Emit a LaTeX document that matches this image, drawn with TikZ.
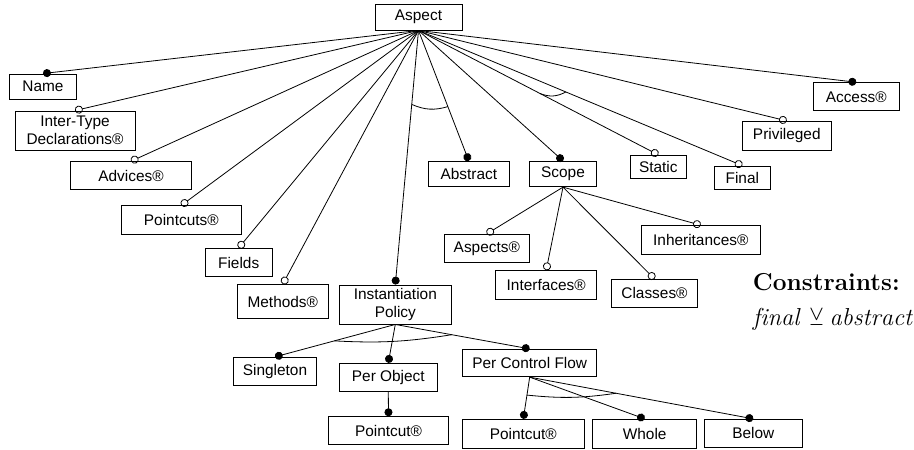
\documentclass[tikz,border=0pt]{standalone}
\usepackage{amssymb}
\usepackage{amsmath}
\usepackage{fontspec}
\newfontfamily\featfont{Liberation Sans}
\usetikzlibrary{arrows.meta,calc}
\tikzset{
  feature/.style={
    draw, rectangle, inner sep=0pt, line width=0.9pt, align=center,
    font=\featfont\fontsize{15.4}{18.5}\selectfont,
  },
  mand/.style={-{Circle[length=8pt]}},
  opt/.style={-{Circle[open,length=8pt]}},
  group arc/.style={line width=0.8pt}
}

\begin{document}
\begin{tikzpicture}[x=1pt,y=1pt]
                \useasboundingbox (0,0) rectangle (914,-450);
                \begin{scope}[every node/.style={feature}]
                    \node[minimum width=87,minimum height=26] (asp) at (418.5,-17) {Aspect};
                    % left hand features
                    \node[minimum width=67.7,minimum height=25] (nam) at (43,-86.5) {Name};
                    \node[minimum width=120,minimum height=39] (itd) at (75,-130.5) {Inter-Type\\Declarations®};
                    \node[minimum width=120.3,minimum height=27.6] (adv) at (131,-175.5) {Advices®};
                    \node[minimum width=120.7,minimum height=28.3] (pcs) at (181.3,-220) {Pointcuts®};
                    \node[minimum width=67.3,minimum height=28.4] (fld) at (238.7,-262.5) {Fields};
                    \node[minimum width=91,minimum height=34] (mth) at (282.8,-301.5) {Methods®};
                    % instantiation policy subtree
                    \node[minimum width=112,minimum height=39] (inst) at (395.3,-304.5) {Instantiation\\Policy};
                    \node[minimum width=83.7,minimum height=28.4] (sgl) at (275,-371.5) {Singleton};
                    \node[minimum width=98,minimum height=28.4] (pobj) at (388.3,-377.5) {Per Object};
                    \node[minimum width=120.4,minimum height=27.6] (pcut) at (388.5,-430.5) {Pointcut®};
                    \node[minimum width=134,minimum height=27.4] (pcf) at (529.7,-363) {Per Control Flow};
                    \node[minimum width=121.3,minimum height=29] (pfcut) at (523.3,-433.8) {Pointcut®};
                    \node[minimum width=104,minimum height=29] (whole) at (644.7,-433.8) {Whole};
                    \node[minimum width=98,minimum height=28] (below) at (753.3,-433.3) {Below};
                    % right hand features
                    \node[minimum width=81,minimum height=25.4] (abst) at (468.8,-174) {Abstract};
                    \node[minimum width=67.4,minimum height=25.4] (scope) at (563,-174) {Scope};
                    \node[minimum width=56.7,minimum height=23] (stat) at (658.3,-166.8) {Static};
                    \node[minimum width=56.7,minimum height=23.3] (fin) at (742.3,-177.7) {Final};
                    \node[minimum width=89.7,minimum height=28.7] (priv) at (786.8,-135.7) {Privileged};
                    \node[minimum width=86,minimum height=28] (acc) at (856.3,-96.7) {Access®};
                    % scope subtree
                    \node[minimum width=85,minimum height=28] (asps) at (486.8,-248.3) {Aspects®};
                    \node[minimum width=101,minimum height=28.6] (ifc) at (546.2,-285) {Interfaces®};
                    \node[minimum width=85.6,minimum height=28] (cls) at (654.5,-293.3) {Classes®};
                    \node[minimum width=119.7,minimum height=28.3] (inh) at (700.8,-239.8) {Inheritances®};
                \end{scope}
                \begin{scope}[line width=0.8pt]
                    \path [mand] (asp.south) edge (nam.north);
                    \path [opt] (asp.south) edge (itd.north);
                    \path [opt] (asp.south) edge (adv.north);
                    \path [opt] (asp.south) edge (pcs.north);
                    \path [opt] (asp.south) edge (fld.north);
                    \path [opt] (asp.south) edge (mth.north);
                    \path [mand] (asp.south) edge (inst.north);
                    \path [mand] (asp.south) edge (abst.north);
                    \path [mand] (asp.south) edge (scope.north);
                    \path [opt] (asp.south) edge (stat.north);
                    \path [opt] (asp.south) edge (fin.north);
                    \path [opt] (asp.south) edge (priv.north);
                    \path [mand] (asp.south) edge (acc.north);
                    \path [mand] (inst.south) edge (sgl.north);
                    \path [mand] (inst.south) edge (pobj.north);
                    \path [mand] (inst.south) edge (pcf.north);
                    \path [mand] (pobj.south) edge (pcut.north);
                    \path [mand] (pcf.south) edge (pfcut.north);
                    \path [mand] (pcf.south) edge (whole.north);
                    \path [mand] (pcf.south) edge (below.north);
                    \path [opt] (scope.south) edge (asps.north);
                    \path [opt] (scope.south) edge (ifc.north);
                    \path [opt] (scope.south) edge (cls.north);
                    \path [opt] (scope.south) edge (inh.north);
                \end{scope}
                % group arcs
                \begin{scope}[group arc]
                    \draw ($(asp.south)!0.291!(inst.north)$) to[bend right=20] ($(asp.south)!0.584!(abst.north)$);
                    \draw ($(asp.south)!0.507!(stat.north)$) to[bend right=25] ($(asp.south)!0.455!(fin.north)$);
                    \draw ($(inst.south)!0.507!(sgl.north)$) to[bend right=6] ($(inst.south)!0.42!(pcf.north)$);
                    \draw ($(pcf.south)!0.43!(pfcut.north)$) to[bend right=7] ($(pcf.south)!0.386!(below.north)$);
                \end{scope}
                \node[anchor=base west,inner sep=0pt,font=\fontsize{24.5}{29}\selectfont\bfseries] (cons) at (752.7,-290) {Constraints:};
                \node[anchor=base west,inner sep=0pt,font=\fontsize{24.5}{29}\selectfont] (rule) at (752.7,-325) {$\mathit{final}\,\mathbin{\veebar}\mathit{abstract}$};
            \end{tikzpicture}
\end{document}
